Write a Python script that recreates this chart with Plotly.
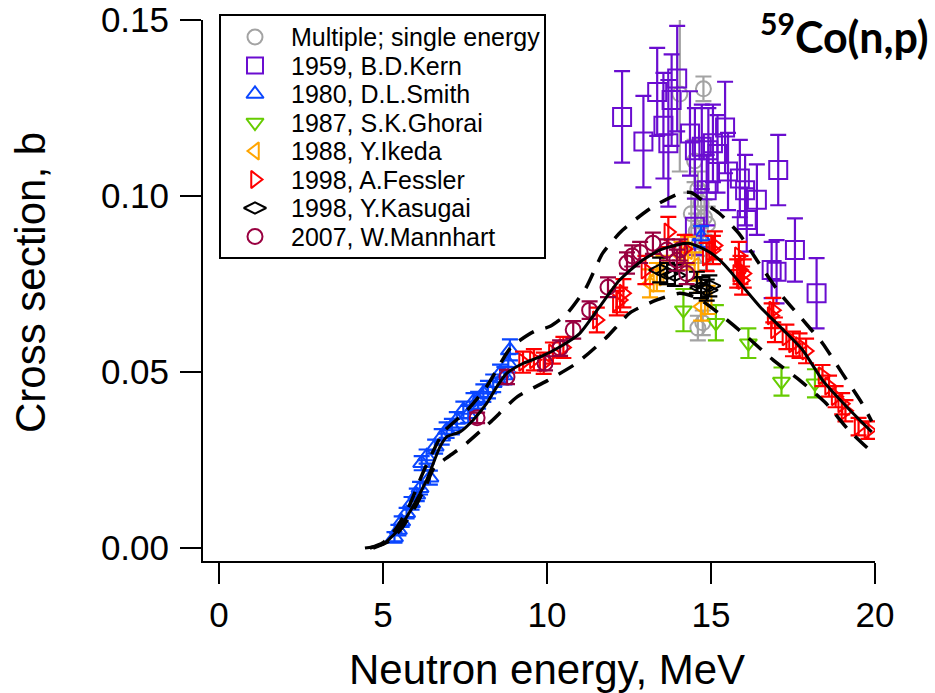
import plotly.graph_objects as go

# ---------------- data ----------------
legend_labels = ["Multiple; single energy", "1959, B.D.Kern", "1980, D.L.Smith",
                 "1987, S.K.Ghorai", "1988, Y.Ikeda", "1998, A.Fessler",
                 "1998, Y.Kasugai", "2007, W.Mannhart"]

gray_E = [14.05, 14.77, 14.40, 14.50, 14.60, 14.70, 14.80, 14.90, 14.55, 14.65, 14.75, 14.85, 14.60, 14.75]
gray_S = [0.1290, 0.1305, 0.0950, 0.1100, 0.1020, 0.0980, 0.0940, 0.0920, 0.0900, 0.0870, 0.0850, 0.0830, 0.0625, 0.0640]
gray_err = [0.0220, 0.0035, 0.0060, 0.0060, 0.0050, 0.0050, 0.0050, 0.0050, 0.0050, 0.0040, 0.0040, 0.0040, 0.0035, 0.0035]

kern_E = [12.29, 12.94, 13.36, 13.55, 13.70, 13.80, 13.97, 14.36, 14.51, 14.51, 14.72, 14.87, 14.92, 15.06,
          15.20, 15.43, 15.52, 15.88, 16.04, 16.09, 16.40, 16.85, 17.00, 17.05, 17.56, 18.22]
kern_S = [0.1225, 0.1155, 0.1296, 0.1200, 0.1150, 0.1273, 0.1334, 0.1178, 0.1130, 0.0913, 0.1140, 0.1017, 0.1130, 0.1150,
          0.1120, 0.1195, 0.1070, 0.1050, 0.1017, 0.0932, 0.0990, 0.0790, 0.0785, 0.1074, 0.0847, 0.0724]
kern_err = [0.0130, 0.0130, 0.0125, 0.0150, 0.0180, 0.0130, 0.0150, 0.0120, 0.0120, 0.0080, 0.0120, 0.0100, 0.0120, 0.0110,
            0.0110, 0.0130, 0.0110, 0.0110, 0.0100, 0.0090, 0.0100, 0.0080, 0.0090, 0.0100, 0.0090, 0.0100]

smith_E = [5.35, 5.47, 5.57, 5.72, 5.87, 6.03, 6.13, 6.18, 6.33, 6.43, 6.59, 6.79, 6.94, 7.10, 7.25, 7.45, 7.60,
           7.76, 7.90, 8.06, 8.20, 8.36, 8.57, 8.70, 8.82, 8.87, 14.70]
smith_S = [0.0030, 0.0051, 0.0075, 0.0099, 0.0127, 0.0151, 0.0170, 0.0241, 0.0260, 0.0200, 0.0288, 0.0316, 0.0335,
           0.0345, 0.0364, 0.0392, 0.0380, 0.0416, 0.0420, 0.0440, 0.0450, 0.0468, 0.0496, 0.0490, 0.0525, 0.0563, 0.0885]
smith_err = [0.0015, 0.0015, 0.0015, 0.0015, 0.0018, 0.0018, 0.0018, 0.0020, 0.0020, 0.0020, 0.0020, 0.0022, 0.0022,
             0.0022, 0.0022, 0.0024, 0.0024, 0.0024, 0.0024, 0.0025, 0.0025, 0.0025, 0.0025, 0.0025, 0.0026, 0.0030, 0.0030]

ghorai_E = [14.16, 15.15, 16.14, 17.15, 18.17]
ghorai_S = [0.0676, 0.0640, 0.0582, 0.0473, 0.0468]
ghorai_err = [0.0060, 0.0050, 0.0042, 0.0040, 0.0040]

ikeda_E = [13.14, 13.35, 13.55, 14.10, 14.30, 14.50, 14.70, 14.90]
ikeda_S = [0.0752, 0.0770, 0.0790, 0.0830, 0.0845, 0.0800, 0.0686, 0.0705]
ikeda_err = [0.0040, 0.0040, 0.0040, 0.0040, 0.0040, 0.0040, 0.0040, 0.0040]

fessler_E = [9.27, 9.60, 9.90, 10.18, 10.50, 11.52, 12.13, 12.23, 12.33, 13.00, 13.70, 14.20, 14.87, 15.06, 15.12,
             15.80, 15.85, 15.90, 15.95, 16.00, 16.85, 16.90, 16.95, 17.30, 17.50, 17.70, 17.90,
             18.40, 18.60, 18.80, 19.00, 19.10, 19.50, 19.80]
fessler_S = [0.0528, 0.0535, 0.0525, 0.0554, 0.0570, 0.0648, 0.0696, 0.0705, 0.0724, 0.0790, 0.0898, 0.0850, 0.0827,
             0.0847, 0.0860, 0.0780, 0.0830, 0.0790, 0.0760, 0.0780, 0.0660, 0.0676, 0.0620, 0.0600, 0.0580, 0.0575,
             0.0560, 0.0490, 0.0460, 0.0430, 0.0410, 0.0390, 0.0345, 0.0335]
fessler_err = [0.0030, 0.0030, 0.0030, 0.0030, 0.0030, 0.0035, 0.0035, 0.0035, 0.0040, 0.0040, 0.0043, 0.0040, 0.0040,
               0.0040, 0.0040, 0.0040, 0.0040, 0.0040, 0.0040, 0.0040, 0.0035, 0.0035, 0.0035, 0.0035, 0.0035, 0.0035,
               0.0035, 0.0030, 0.0030, 0.0030, 0.0030, 0.0030, 0.0025, 0.0025]

kasugai_E = [13.45, 13.66, 13.90, 14.57, 14.70, 14.87, 14.95]
kasugai_S = [0.0790, 0.0780, 0.0775, 0.0755, 0.0740, 0.0733, 0.0745]
kasugai_err = [0.0035, 0.0030, 0.0030, 0.0030, 0.0030, 0.0030, 0.0030]

mann_E = [7.87, 8.78, 9.94, 10.40, 10.80, 11.30, 11.86, 12.44, 12.60, 12.84, 13.23, 13.66, 14.05, 13.96, 14.26]
mann_S = [0.0370, 0.0486, 0.0525, 0.0568, 0.0620, 0.0676, 0.0741, 0.0810, 0.0830, 0.0840, 0.0866, 0.0847, 0.0847,
          0.0818, 0.0780]
mann_err = [0.0015, 0.0020, 0.0020, 0.0022, 0.0025, 0.0025, 0.0028, 0.0030, 0.0030, 0.0030, 0.0030, 0.0030, 0.0030,
            0.0030, 0.0030]

eval_E = [4.45, 4.80, 5.00, 5.40, 5.80, 6.33, 6.74, 6.94, 7.35, 7.75, 8.16, 8.47, 8.77, 9.28, 9.79, 10.40, 11.00,
          11.60, 12.20, 12.84, 13.45, 14.00, 14.30, 14.66, 15.00, 15.27, 15.60, 15.98, 16.50, 17.20, 17.80, 18.40,
          19.15, 19.90]
eval_S = [0.0000, 0.0005, 0.0010, 0.0045, 0.0100, 0.0193, 0.0288, 0.0316, 0.0330, 0.0364, 0.0411, 0.0458, 0.0496,
          0.0525, 0.0543, 0.0572, 0.0610, 0.0685, 0.0760, 0.0813, 0.0847, 0.0862, 0.0866, 0.0855, 0.0838, 0.0818,
          0.0785, 0.0742, 0.0685, 0.0620, 0.0562, 0.0477, 0.0400, 0.0330]

upper_E = [4.60, 5.00, 5.40, 5.80, 6.20, 6.45, 6.85, 7.55, 8.17, 8.90, 9.60, 10.10, 10.60, 11.20, 11.70, 12.30, 13.23,
           14.05, 14.40, 14.97, 15.27, 15.85, 16.40, 17.10, 17.80, 18.40, 19.00, 19.60, 19.90]
upper_S = [0.0000, 0.0015, 0.0055, 0.0120, 0.0210, 0.0260, 0.0330, 0.0390, 0.0460, 0.0570, 0.0615, 0.0630, 0.0665,
           0.0741, 0.0838, 0.0903, 0.0970, 0.1008, 0.1010, 0.0970, 0.0950, 0.0894, 0.0818, 0.0724, 0.0648, 0.0582,
           0.0497, 0.0412, 0.0360]

lower_E = [4.70, 5.20, 5.60, 6.00, 6.30, 6.55, 7.00, 7.45, 8.30, 9.10, 10.00, 10.90, 11.83, 12.53, 13.35, 14.05,
           14.60, 15.27, 16.10, 16.90, 17.70, 18.50, 19.20, 19.90]
lower_S = [0.0000, 0.0020, 0.0060, 0.0120, 0.0175, 0.0227, 0.0260, 0.0290, 0.0360, 0.0430, 0.0475, 0.0525, 0.0600,
           0.0668, 0.0705, 0.0724, 0.0710, 0.0665, 0.0600, 0.0534, 0.0477, 0.0412, 0.0335, 0.0273]

y_ticks = [0.0, 0.05, 0.10, 0.15]
x_ticks = [0, 5, 10, 15, 20]

# ---------------- styling ----------------
W, H = 935, 693
PL, PR, PT, PB = 203, 875, 20, 561   # plot area in pixels
FONT = "Liberation Sans, Arial, sans-serif"

series = [
    (gray_E, gray_S, gray_err, "#a3a3a3", "circle-open", 15),
    (kern_E, kern_S, kern_err, "#6a0dd0", "square-open", 18),
    (smith_E, smith_S, smith_err, "#0a46ff", "triangle-up-open", 15),
    (ghorai_E, ghorai_S, ghorai_err, "#66cc00", "triangle-down-open", 15),
    (ikeda_E, ikeda_S, ikeda_err, "#ffa500", "triangle-left-open", 15),
    (fessler_E, fessler_S, fessler_err, "#ff0000", "triangle-right-open", 15),
    (kasugai_E, kasugai_S, kasugai_err, "#000000", "diamond-wide-open", 16),
    (mann_E, mann_S, mann_err, "#990040", "circle-open", 15),
]

fig = go.Figure()
for (E, S, Err, col, sym, sz), name in zip(series, legend_labels):
    fig.add_trace(go.Scatter(
        x=E, y=S, mode="markers", name=name, showlegend=False,
        marker=dict(symbol=sym, size=sz, color=col, line=dict(width=2, color=col)),
        error_y=dict(type="data", array=Err, visible=True, color=col, thickness=2.2, width=8),
    ))

dash = "17px,12px"
fig.add_trace(go.Scatter(x=upper_E, y=upper_S, mode="lines", showlegend=False,
                         line=dict(color="black", width=3.5, dash=dash, shape="spline", smoothing=0.6)))
fig.add_trace(go.Scatter(x=lower_E, y=lower_S, mode="lines", showlegend=False,
                         line=dict(color="black", width=3.5, dash=dash, shape="spline", smoothing=0.6)))
fig.add_trace(go.Scatter(x=eval_E, y=eval_S, mode="lines", showlegend=False,
                         line=dict(color="black", width=3, shape="spline", smoothing=0.6)))

# manual legend (drawn on a pixel-unit overlay axis)
leg_x_marker, leg_x_text, leg_y0, leg_dy = 255, 289, 37, 28.5
leg_y = [leg_y0 + i * leg_dy for i in range(len(legend_labels))]
for i, ((E, S, Err, col, sym, sz), name) in enumerate(zip(series, legend_labels)):
    fig.add_trace(go.Scatter(
        x=[leg_x_marker], y=[leg_y[i]], xaxis="x2", yaxis="y2", mode="markers", showlegend=False,
        marker=dict(symbol=sym, size=min(sz, 16), color=col, line=dict(width=2, color=col)), hoverinfo="skip"))
    fig.add_annotation(x=leg_x_text, y=leg_y[i], xref="x2", yref="y2", text=name, showarrow=False,
                       xanchor="left", yanchor="middle", font=dict(family=FONT, size=25, color="black"))


def px_x(p):
    return (p - PL) / (PR - PL)


def px_y(p):
    return (PB - p) / (PB - PT)


fig.add_shape(type="rect", xref="paper", yref="paper",
              x0=px_x(220), x1=px_x(545), y0=px_y(258), y1=px_y(15),
              line=dict(color="black", width=2), fillcolor="rgba(0,0,0,0)", layer="above")

# axis titles & label
fig.add_annotation(x=px_x(547), y=px_y(669), xref="paper", yref="paper", text="Neutron energy, MeV",
                   showarrow=False, xanchor="center", yanchor="middle",
                   font=dict(family=FONT, size=42, color="black"))
fig.add_annotation(x=px_x(30), y=px_y(283), xref="paper", yref="paper", text="Cross section, b",
                   showarrow=False, xanchor="center", yanchor="middle", textangle=-90,
                   font=dict(family=FONT, size=42, color="black"))
fig.add_annotation(x=px_x(931), y=px_y(3), xref="paper", yref="paper",
                   text="<b><sup>59</sup>Co(n,p)</b>", showarrow=False, xanchor="right", yanchor="top",
                   font=dict(family="Lato, sans-serif", size=43, color="black"))

x_min = (PL - 219) / 32.8
y_min = (548 - PB) / 3520
fig.update_layout(
    width=W, height=H,
    margin=dict(l=PL, r=W - PR, t=PT, b=H - PB, pad=0, autoexpand=False),
    paper_bgcolor="white", plot_bgcolor="white",
    font=dict(family=FONT, color="black"),
    xaxis=dict(range=[x_min, 20.001], tickvals=x_ticks, ticks="outside", ticklen=21, tickwidth=2,
               tickcolor="black", showline=True, linewidth=2, linecolor="black", showgrid=False,
               zeroline=False, tickfont=dict(family=FONT, size=35), ticklabelstandoff=1, automargin=False,
               ticklabeloverflow="allow"),
    yaxis=dict(range=[y_min, 0.15005], tickvals=y_ticks, tickformat=".2f",
               ticks="outside", ticklen=21, tickwidth=2, tickcolor="black", showline=True, linewidth=2,
               linecolor="black", showgrid=False, zeroline=False, tickfont=dict(family=FONT, size=35),
               ticklabelstandoff=4, automargin=False, ticklabeloverflow="allow"),
    xaxis2=dict(range=[PL, PR], overlaying="x", visible=False, anchor="y2"),
    yaxis2=dict(range=[PB, PT], overlaying="y", visible=False, anchor="x2"),
    showlegend=False,
)

# remove the browser's default page margin so the figure sits at the window's corner
fig.write_html("out.html", config={"displayModeBar": False},
               post_script="document.body.style.margin='0';document.body.style.overflow='hidden';")
